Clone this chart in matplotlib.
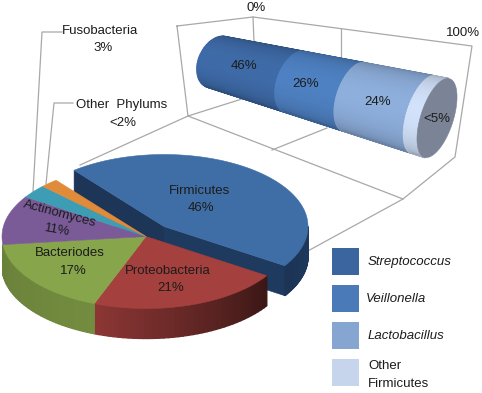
import numpy as np
import matplotlib
matplotlib.use("Agg")
import matplotlib.pyplot as plt
from matplotlib.colors import to_rgb
from matplotlib.patches import Polygon

plt.rcParams['font.family'] = ['Liberation Sans', 'DejaVu Sans']

# ---- data ----
phyla = ['Proteobacteria', 'Bacteriodes', 'Actinomyces', 'Fusobacteria', 'Other Phylums', 'Firmicutes']
phyla_values = [21, 17, 11, 3, 2, 46]
phyla_colors = ['#a4403d', '#87a54a', '#7a5b97', '#3c9db5', '#e08b3a', '#3f6ea6']
genera = ['Streptococcus', 'Veillonella', 'Lactobacillus', 'Other\nFirmicutes']
genera_values = [46, 26, 24, 4]
genera_labels = ['46%', '26%', '24%', '<5%']
genera_colors = ['#3b659f', '#4a7ab8', '#86a5d0', '#c6d5ec']

# ---- layout ----
CX, CY, RX, RY, DEPTH = 146, 236.5, 144, 72, 30
START = 33
WARP = 4.0  # perspective foreshortening of the tilted pie, degrees
EXPLODE = (18, -10)
GRAY = '#a8a8a8'
TXT = '#1c1c1c'
FS = 9.5

fig = plt.figure(figsize=(4.82, 3.93), dpi=100)
ax = fig.add_axes([0, 0, 1, 1])
ax.set_xlim(0, 482)
ax.set_ylim(393, 0)
ax.axis('off')


def shade(color, f):
    return tuple(min(1, c * f) for c in to_rgb(color))


def pt(a, z=0, off=(0, 0)):
    t = np.radians(a)
    return CX + off[0] + RX * np.cos(t), CY + off[1] + RY * np.sin(t) + z


def poly(points, color, zorder, lw=0.4):
    ax.add_patch(Polygon(points, closed=True, facecolor=color, edgecolor=color,
                         linewidth=lw, zorder=zorder))


def top(a0, a1, color, off, zorder):
    aa = np.linspace(a0, a1, 80)
    poly([(CX + off[0], CY + off[1])] + [pt(a, 0, off) for a in aa], color, zorder)


def side(a0, a1, color, off, zorder, f0, f1):
    lo, hi = max(a0, 0), min(a1, 180)
    if a1 > 360:
        lo, hi = 360, a1
    if lo >= hi:
        return
    aa = np.linspace(lo, hi, 40)
    for i in range(len(aa) - 1):
        f = f0 + (f1 - f0) * i / (len(aa) - 2)
        poly([pt(aa[i], 0, off), pt(aa[i + 1], 0, off),
              pt(aa[i + 1], DEPTH, off), pt(aa[i], DEPTH, off)], shade(color, f), zorder, lw=1.0)


# ---- box and connector lines ----
box_lines = [
    ((177, 26), (253, 17), (472, 46), (455, 157), (403, 199), (188, 116), (177, 26)),
    ((253, 17), (254, 42)),
    ((341, 29), (341, 58)),
    ((272, 150), (327, 128)),
    ((188, 116), (245, 98)),
    ((188, 116), (80, 165)),
    ((403, 199), (284, 264)),
    ((62, 32), (42, 32), (33, 192)),
    ((73, 103), (54, 103), (46, 184)),
]
for line in box_lines:
    xs, ys = zip(*line)
    ax.plot(xs, ys, color=GRAY, lw=0.9, zorder=1, solid_joinstyle='miter')

# ---- exploded pie ----
linear = START + np.cumsum([0] + phyla_values) * 3.6
edges = linear + WARP * np.sin(np.radians((linear - START) / 2))
a_start, a_end = edges[5], edges[6]
off = EXPLODE
v = (CX + off[0], CY + off[1])
navy = '#1f3a5f'
p0, p1 = pt(a_start, 0, off), pt(a_end, 0, off)
poly([p0, v, (v[0], v[1] + DEPTH), (p0[0], p0[1] + DEPTH)], '#1d3557', 2)
poly([v, p1, (p1[0], p1[1] + DEPTH), (v[0], v[1] + DEPTH)], navy, 2)
side(a_start, a_end, navy, off, 2, 1.0, 0.9)
top(a_start, a_end, phyla_colors[5], off, 3)

side_shades = [(0.36, 0.85), (0.85, 0.78)]
for i in range(2):
    side(edges[i], edges[i + 1], phyla_colors[i], (0, 0), 4, *side_shades[i])
for i in range(5):
    top(edges[i], edges[i + 1], phyla_colors[i], (0, 0), 5)

# ---- perspective cylinder ----
C0, C1 = np.array([217.0, 62.0]), np.array([437.0, 118.0])
U, V = np.array([16.4, 2.0]), np.array([11.5, -39.5])
K = 0.55


def ring(t, phi):
    p = t / (1 + K * (1 - t))
    s = 1 / (1 + K * (1 - t))
    return C0 + p * (C1 - C0) + (1.13 - 0.13 * p) * U * np.cos(phi) + s * V * np.sin(phi)


cum = np.cumsum([0] + genera_values) / 100
phis = np.radians(np.linspace(90, 270, 41))
for i in range(4):
    for j in range(len(phis) - 1):
        m = (phis[j] + phis[j + 1]) / 2
        u = (np.degrees(m) - 90) / 180
        f = 0.78 + 0.28 * np.sin(np.pi * u ** 0.9)
        col = shade(genera_colors[i], f)
        poly([ring(cum[i], phis[j]), ring(cum[i], phis[j + 1]),
              ring(cum[i + 1], phis[j + 1]), ring(cum[i + 1], phis[j])], col, 6, lw=1.2)
cap = np.radians(np.linspace(0, 360, 120))
poly([ring(1.0, c) for c in cap], '#7b8496', 7)

# ---- text ----
def label(x, y, s, **kw):
    ax.text(x, y, s, ha='center', va='center', fontsize=FS, color=TXT, zorder=10, **kw)


pie_text = [
    (200, 191, phyla[5], 0), (201, 208, f'{phyla_values[5]}%', 0),
    (168, 271, phyla[0], 0), (171, 288, f'{phyla_values[0]}%', 0),
    (70, 253, phyla[1], 0), (73, 271, f'{phyla_values[1]}%', 0),
    (60, 214, phyla[2], -15), (57, 230, f'{phyla_values[2]}%', -10),
    (100, 31, phyla[3], 0), (103, 48, f'{phyla_values[3]}%', 0),
    (122, 105, 'Other  Phylums', 0), (123, 123, f'<{phyla_values[4]}%', 0),
    (256, 8, '0%', 0), (463, 33, '100%', 0),
]
for x, y, s, r in pie_text:
    label(x, y, s, rotation=r, rotation_mode='anchor')
for (x, y), s in zip([(244, 66), (306, 84), (378, 102), (437, 119)], genera_labels):
    label(x, y, s)

# ---- legend ----
sw_y = [248, 285, 322, 359]
txt_x = [368, 366, 368, 368]
for i in range(4):
    poly([(332, sw_y[i]), (359, sw_y[i]), (359, sw_y[i] + 27), (332, sw_y[i] + 27)], genera_colors[i], 8, lw=0)
    if '\n' in genera[i]:
        a, b = genera[i].split('\n')
        ax.text(txt_x[i], sw_y[i] + 7, a, va='center', fontsize=FS, color=TXT)
        ax.text(txt_x[i], sw_y[i] + 25, b, va='center', fontsize=FS, color=TXT)
    else:
        ax.text(txt_x[i], sw_y[i] + 14, genera[i], va='center', fontsize=FS, color=TXT, style='italic')

fig.savefig('out.png', dpi=100)
